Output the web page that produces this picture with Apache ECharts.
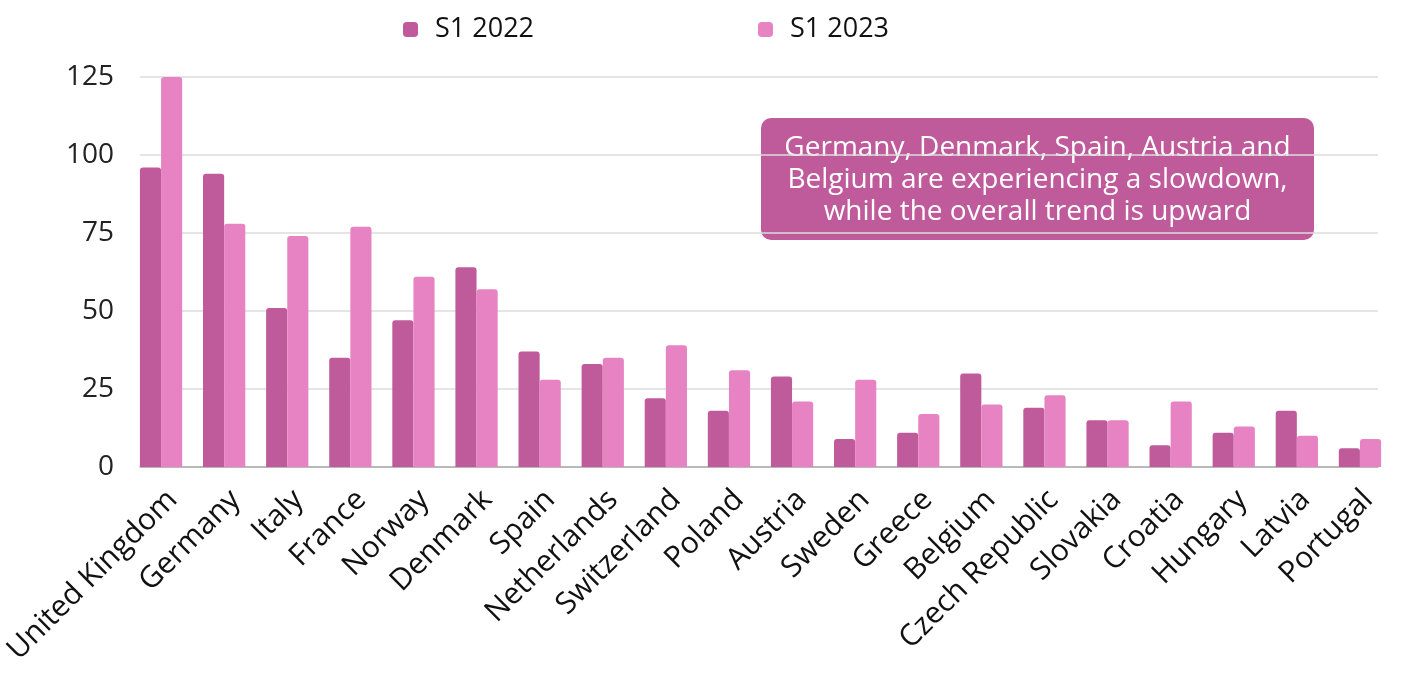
<!DOCTYPE html>
<html><head><meta charset="utf-8">
<script src="https://cdn.jsdelivr.net/npm/echarts@6/dist/echarts.min.js"></script>
<style>html,body{margin:0;padding:0;background:#fff}#c{width:1405px;height:697px}</style>
</head><body><div id="c"></div>
<script>
const categories = ["United Kingdom","Germany","Italy","France","Norway","Denmark","Spain","Netherlands","Switzerland","Poland","Austria","Sweden","Greece","Belgium","Czech Republic","Slovakia","Croatia","Hungary","Latvia","Portugal"];
const s2022 = [96,94,51,35,47,64,37,33,22,18,29,9,11,30,19,15,7,11,18,6];
const s2023 = [125,78,74,77,61,57,28,35,39,31,21,28,17,20,23,15,21,13,10,9];
const seriesNames = ["S1 2022","S1 2023"];
const yTicks = [0,25,50,75,100,125];
const note = "Germany, Denmark, Spain, Austria and\nBelgium are experiencing a slowdown,\nwhile the overall trend is upward";

const font = "'Open Sans', 'Noto Sans', sans-serif";
const chart = echarts.init(document.getElementById('c'));
chart.setOption({
  animation:false,
  textStyle:{fontFamily:font},
  legend:{
    data:seriesNames, top:11, left:398, itemGap:224,
    itemWidth:15, itemHeight:15, icon:'roundRect',
    textStyle:{fontSize:27, color:'#111', fontFamily:font, padding:[0,0,0,12]}
  },
  grid:[
    {left:140, right:27, top:77, bottom:230},
    {left:129.5, right:13.5, top:77, bottom:230},
    {left:137.5, right:5.5, top:77, bottom:230}
  ],
  xAxis:[
    {type:'category', gridIndex:0, data:categories, axisTick:{show:false}, axisLabel:{show:false},
     axisLine:{lineStyle:{color:'#aaa', width:1.5}}},
    {type:'category', gridIndex:1, data:categories, axisTick:{show:false}, axisLine:{show:false}, axisLabel:{show:false}},
    {type:'category', gridIndex:2, data:categories,
     axisTick:{show:false}, axisLine:{show:false},
     axisLabel:{rotate:45, interval:0, fontSize:30, color:'#111', fontFamily:font, margin:28}}
  ],
  yAxis:[
    {type:'value', gridIndex:0, min:0, max:125, interval:25,
     axisLine:{show:false}, axisTick:{show:false},
     splitLine:{lineStyle:{color:'#ddd', width:1.5}},
     axisLabel:{fontSize:28, color:'#222', fontFamily:font, margin:26,
       formatter:v=>yTicks.includes(v)?String(v):''}},
    {type:'value', gridIndex:1, min:0, max:125, interval:25, show:false, splitLine:{show:false}},
    {type:'value', gridIndex:2, min:0, max:125, interval:25, show:false, splitLine:{show:false}}
  ],
  series:[
    {name:seriesNames[0], type:'bar', xAxisIndex:1, yAxisIndex:1, data:s2022, barGap:'0%', barCategoryGap:'33%',
     itemStyle:{color:'#c05b9b', borderRadius:[3,3,0,0]}},
    {name:seriesNames[1], type:'bar', xAxisIndex:1, yAxisIndex:1, data:s2023, barGap:'0%', barCategoryGap:'33%',
     itemStyle:{color:'#e883c3', borderRadius:[3,3,0,0]}}
  ],
  graphic:[{
    type:'group', left:761, top:118,
    children:[
      {type:'rect', shape:{x:0,y:0,width:553,height:122,r:10}, style:{fill:'#c05b9b'}},
      {type:'text', x:276.5, y:62, style:{text:note, fill:'#fff', fontSize:28, fontFamily:font,
        align:'center', verticalAlign:'middle', lineHeight:32}}
    ]
  }]
});
</script></body></html>
